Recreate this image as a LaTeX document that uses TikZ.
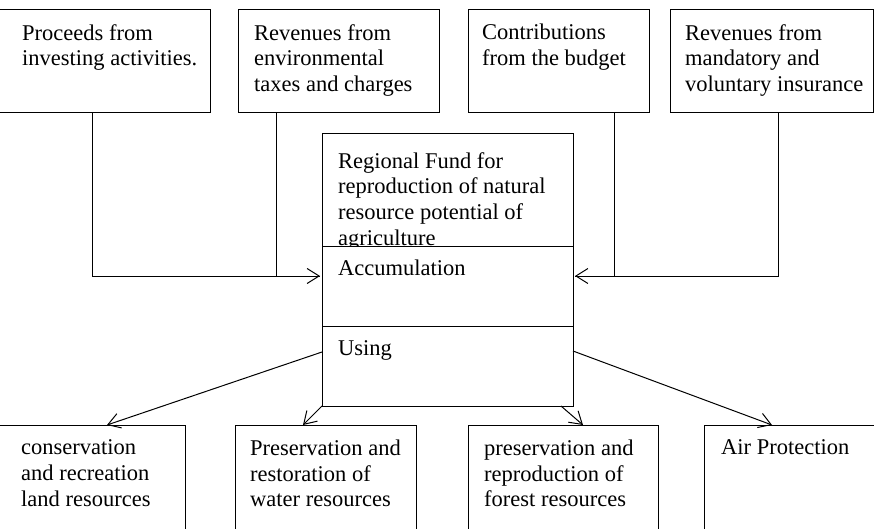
\documentclass[tikz,border=0pt]{standalone}
\usepackage{fontspec}
\setmainfont{Liberation Serif}
\usetikzlibrary{arrows.meta}

\begin{document}
\begin{tikzpicture}[x=1pt, y=-1pt, shorten >=2pt,
		box_style/.style={rectangle,draw=black,line width=1pt,fill=white,inner sep=0pt,outer sep=0pt,anchor=north west},
		text_style/.style={anchor=north west,inner sep=0pt,align=left,font=\fontsize{22.5}{25.8}\selectfont},
		edge_style/.style={draw=black,line width=1pt},
		arrow_style/.style={edge_style,-{Straight Barb[length=12pt,width=15pt]}}]
		
		\useasboundingbox (0,0) rectangle (874,529);
		
		% sources
		\node[box_style,minimum width=230,minimum height=103] (b1) at (-20,10) {};
		\node[box_style,minimum width=201,minimum height=103] (b2) at (238,10) {};
		\node[box_style,minimum width=181,minimum height=103] (b3) at (468,10) {};
		\node[box_style,minimum width=203,minimum height=103] (b4) at (670,10) {};
		\node[text_style] (t1) at (22,24)  {Proceeds from\\investing activities.};
		\node[text_style] (t2) at (254,24) {Revenues from\\environmental\\taxes and charges};
		\node[text_style] (t3) at (482,24) {Contributions\\from the budget};
		\node[text_style] (t4) at (685,24) {Revenues from\\mandatory and\\voluntary insurance};
		
		% fund
		\node[box_style,minimum width=251,minimum height=112] (fund) at (322,134) {};
		\node[text_style] (tf) at (338,152) {Regional Fund for\\reproduction of natural\\resource potential of\\agriculture};
		\node[box_style,minimum width=251,minimum height=80] (accum) at (322,246) {};
		\node[text_style] (ta) at (338,260) {Accumulation};
		\node[box_style,minimum width=251,minimum height=80] (using) at (322,326) {};
		\node[text_style] (tu) at (338,340) {Using};
		
		% directions
		\node[box_style,minimum width=205,minimum height=150] (bA) at (-20,425) {};
		\node[box_style,minimum width=181,minimum height=150] (bB) at (235,425) {};
		\node[box_style,minimum width=190,minimum height=150] (bC) at (468,425) {};
		\node[box_style,minimum width=200,minimum height=150] (bD) at (704,425) {};
		\node[text_style] (tA) at (21,439.5)  {conservation\\and recreation\\land resources};
		\node[text_style] (tB) at (250,439.5) {Preservation and\\restoration of\\water resources};
		\node[text_style] (tC) at (484,439.5) {preservation and\\reproduction of\\forest resources};
		\node[text_style] (tD) at (721,439.5) {Air Protection};
		
		\draw[arrow_style] ([xshift=-3pt]b1.south) |- ([yshift=10pt]accum.west);
		\draw[edge_style]  ([xshift=-62.5pt]b2.south) |- ([yshift=10pt]accum.west);
		\draw[arrow_style] ([xshift=6.5pt]b4.south) |- ([yshift=10pt]accum.east);
		\draw[edge_style]  ([xshift=55.5pt]b3.south) |- ([yshift=10pt]accum.east);
		
		\draw[arrow_style,shorten >=0pt] ([yshift=14pt]using.west) -- ([xshift=24.5pt]bA.north);
		\draw[arrow_style,shorten >=0pt] (using.south west) -- ([xshift=-22.5pt]bB.north);
		\draw[arrow_style,shorten >=0pt] ([xshift=113.5pt]using.south) -- ([xshift=20pt]bC.north);
		\draw[arrow_style,shorten >=0pt] ([yshift=15pt]using.east) -- ([xshift=-32pt]bD.north);
		\end{tikzpicture}
\end{document}
